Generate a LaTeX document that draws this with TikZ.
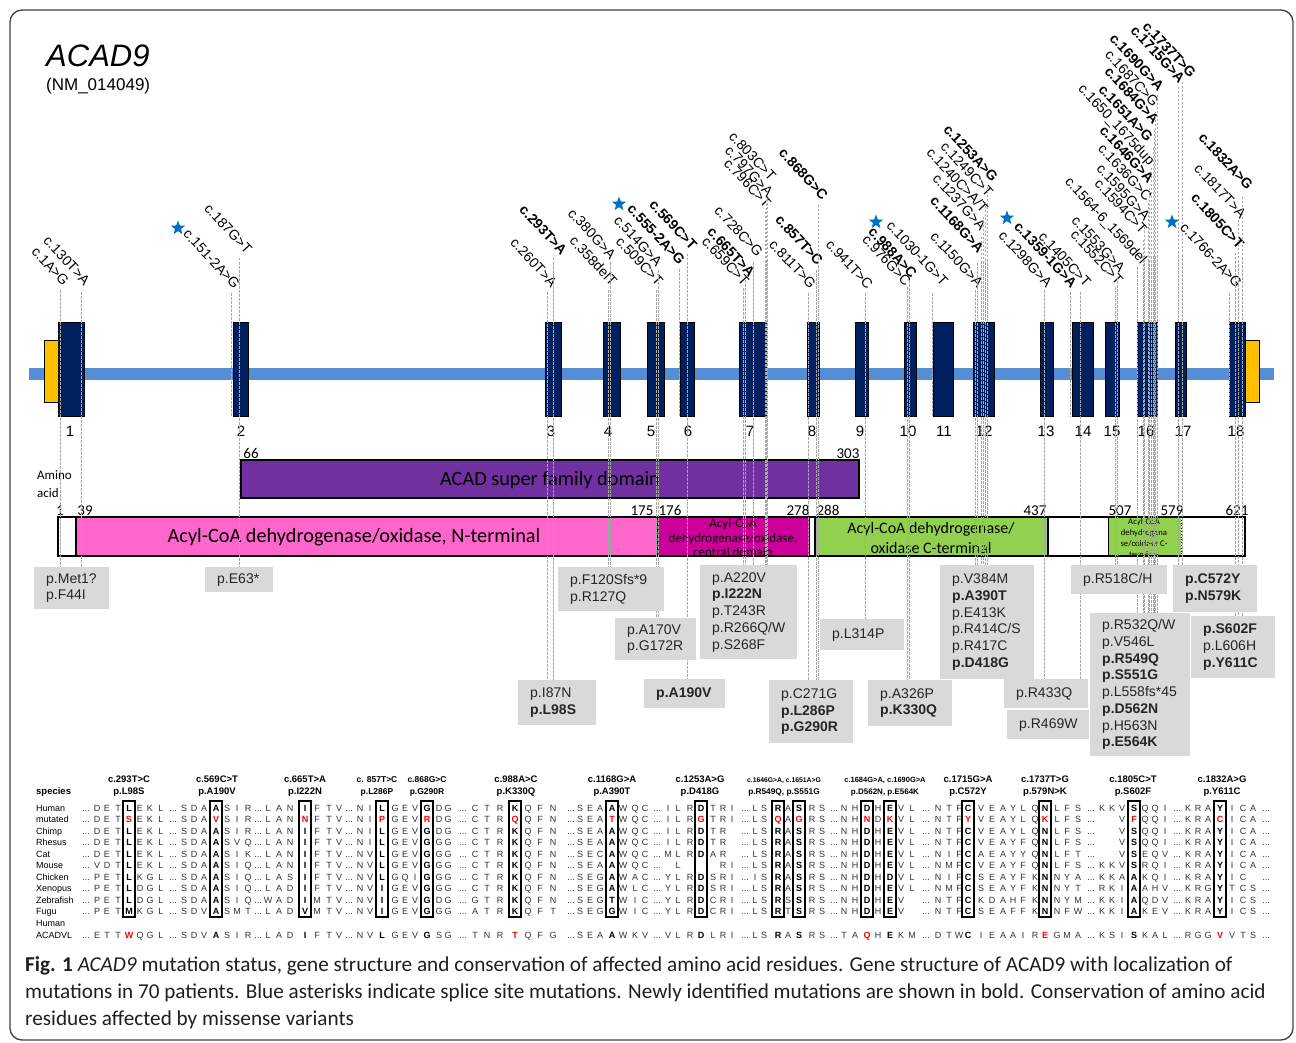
\documentclass[tikz,border=0pt]{standalone}
\usepackage{fontspec}
\setmainfont{Liberation Sans}
\newfontfamily\calfont{Carlito}
\usetikzlibrary{shapes.geometric}
\pgfdeclarelayer{fg}
\pgfsetlayers{main,fg}
\definecolor{exonc}{HTML}{002060}
\definecolor{utrc}{HTML}{FFC000}
\definecolor{genec}{HTML}{558ED5}
\definecolor{purp}{HTML}{7030A0}
\definecolor{pinkd}{HTML}{FF66CC}
\definecolor{magc}{HTML}{CC0099}
\definecolor{grnc}{HTML}{92D050}
\definecolor{boxg}{HTML}{D9D9D9}
\definecolor{starb}{HTML}{0070C0}
\definecolor{mlinec}{HTML}{A6A6A6}
\definecolor{redm}{HTML}{FF0000}
\newcommand\seqf{\fontsize{9}{9}\selectfont}
\newcommand\seqbf{\fontsize{9}{9}\selectfont\bfseries}
\tikzset{
 mutn/.style={rotate=-47, anchor=base east, inner sep=0, font=\fontsize{14}{14}\selectfont},
 mutb/.style={rotate=-47, anchor=base east, inner sep=0, font=\fontsize{14}{14}\selectfont\bfseries},
 mline/.style={draw=mlinec, line width=0.7pt, dash pattern=on 2.5pt off 1.5pt},
 pboxs/.style={fill=boxg, draw=none, anchor=north west, inner xsep=12pt, inner ysep=0pt, align=left, text=black!85, font=\fontsize{14}{16.7}\selectfont},
 exonbox/.style={fill=exonc, draw=black, line width=0.6pt},
 exlab/.style={anchor=base, inner sep=0, font=\fontsize{15}{15}\selectfont},
 numlab/.style={anchor=base, inner sep=0, font=\calfont\fontsize{15}{15}\selectfont},
 seqt/.style={anchor=base, inner sep=0, text=black!80, font=\seqf},
 alnbox/.style={draw=black, line width=1.3pt},
 hd/.style={anchor=base, inner sep=0, font=\fontsize{9.5}{9.5}\selectfont\bfseries},
 spec/.style={anchor=base west, inner sep=0, font=\fontsize{9}{9}\selectfont},
 bstar/.style={star, star points=5, star point ratio=2.4, fill=starb, draw=none, minimum size=15pt, inner sep=0pt},
 capt/.style={anchor=base west, inner sep=0, text=black!88, font=\calfont\fontsize{21.2}{21.2}\selectfont},
}
\newcount\rowc
\def\dotch{.}
\def\blankch{_}
\newcommand\seqcol[3]{%
  \def\scx{#1}\def\scb{#3}\rowc=0
  \ifnum#3=1 \draw[alnbox] (#1-6,801) rectangle (#1+6,917);\fi
  \seqloop#2\relax}
\def\seqloop#1{\ifx\relax#1\else\seqput#1\advance\rowc by 1 \expandafter\seqloop\fi}
\def\seqput#1{%
  \ifnum\rowc=10 \def\yy{938}\else\pgfmathsetmacro\yy{811+11.5*\the\rowc}\fi
  \def\ch{#1}%
  \ifnum\rowc=0 \let\humch\ch\fi
  \ifx\ch\dotch
     \node[seqt] (q\scx r\the\rowc) at (\scx,\yy) {...};%
  \else\ifx\ch\blankch\else
     \ifnum\scb=1
        \ifnum\rowc=1 \def\cc{redm}\else
          \ifnum\rowc=10 \ifx\ch\humch\def\cc{black}\else\def\cc{redm}\fi\else\def\cc{black}\fi
        \fi
        \node[seqt,font=\seqbf,text=\cc] (q\scx r\the\rowc) at (\scx,\yy) {#1};%
     \else
        \node[seqt] (q\scx r\the\rowc) at (\scx,\yy) {#1};%
     \fi
  \fi\fi}
% name, line x, line top, text, style, target, text end x, text end y
\newcommand\mlab[8]{%
  \coordinate (#1) at (#2,#3);
  \node[#5] (#1t) at (#7,#8) {#4};
  \draw[mline] (#1) -- (#1 |- #6.north);}
\newcommand\pbox[6]{%
  \pgfmathsetmacro\tw{#4-24}%
  \node[pboxs, text width=\tw pt, minimum height=#5pt] (#1) at (#2,#3) {#6};}
\newcommand\hdr[5]{%
  \node[hd,font=#4] (h#1a) at (#1,782.5) {#2};
  \node[hd,font=#5] (h#1b) at (#1,794.5) {#3};}
\newcommand\hfa{\fontsize{9.5}{9.5}\selectfont\bfseries}
\begin{document}
\begin{tikzpicture}[x=1pt,y=-1pt]
\useasboundingbox (0,0) rectangle (1296,1043);
\draw[rounded corners=12pt, line width=1.3pt, draw=black!75] (10,10) rectangle (1293,1040);
% title
\node[anchor=base west, inner sep=0, font=\fontsize{31}{31}\selectfont\itshape] (title) at (46,67) {ACAD9};
\node[anchor=base west, inner sep=0, font=\fontsize{17}{17}\selectfont] (nm) at (46,91) {(NM\_014049)};
% gene
\fill[genec] (29,368) rectangle (1274,380);
\draw[fill=utrc, draw=black, line width=0.6pt] (44,340) rectangle (58,402);
\draw[fill=utrc, draw=black, line width=0.6pt] (1245,340) rectangle (1259,402);
\foreach \a/\b/\n/\lx in {58/84/1/70, 233/248/2/241, 545/561/3/551, 603/620/4/608, 647/664/5/651, 680/694/6/688, 739/766/7/750, 807/819/8/812, 855/868/9/860, 904/916/10/908, 933/953/11/944, 973/994/12/984, 1040/1053/13/1046, 1072/1093/14/1083, 1105/1119/15/1112, 1137/1157/16/1146, 1175/1186/17/1183, 1229/1245/18/1236}
{\draw[exonbox] (\a,322) rectangle (\b,416); \node[exlab] (ex\n) at (\lx,436) {\n};}
% protein domains
\node[anchor=base west, inner sep=0, font=\calfont\fontsize{13}{13}\selectfont] (aa1) at (37,479) {Amino};
\node[anchor=base west, inner sep=0, font=\calfont\fontsize{13}{13}\selectfont] (aa2) at (37,497) {acid};
\draw[fill=purp, draw=black, line width=1.8pt] (241,460) rectangle (859,498);
\node[inner sep=0, font=\calfont\fontsize{20.3}{20.3}\selectfont] (acad) at (550,480) {ACAD super family domain};
\node[numlab] (n66) at (251,458) {66};
\node[numlab] (n303) at (848,458) {303};
\fill[white] (58,517) rectangle (76,556);
\fill[pinkd] (76,517) rectangle (657,556);
\fill[magc] (657,517) rectangle (809,556);
\fill[white] (809,517) rectangle (815,556);
\fill[grnc] (815,517) rectangle (1048,556);
\fill[white] (1048,517) rectangle (1108,556);
\fill[grnc] (1108,517) rectangle (1181,556);
\fill[white] (1181,517) rectangle (1245,556);
\draw[line width=1.8pt] (76,517) -- (76,556);
\draw[line width=0.7pt, dashed] (657,517) -- (657,556);
\draw[line width=0.8pt] (809,517) -- (809,556);
\draw[line width=1.5pt] (815,517) -- (815,556);
\draw[line width=1.8pt] (1048,517) -- (1048,556);
\draw[line width=0.8pt] (1108,517) -- (1108,556);
\draw[line width=0.8pt, dotted] (1181,517) -- (1181,556);
\draw[line width=2pt] (58,517) rectangle (1245,556);
\node[inner sep=0, font=\calfont\fontsize{20.3}{20.3}\selectfont] (nterm) at (354,537) {Acyl-CoA dehydrogenase/oxidase, N-terminal};
\begin{scope}
\clip (657,518) rectangle (809,555);
\node[inner sep=0, align=center, font=\calfont\fontsize{13}{14.5}\selectfont] (cent) at (733,538) {Acyl-CoA\\dehydrogenase/oxidase,\\central domain};
\end{scope}
\node[inner sep=0, align=center, font=\calfont\fontsize{16}{20}\selectfont] (cterm) at (931,538) {Acyl-CoA dehydrogenase/\\oxidase C-terminal};
\begin{scope}
\clip (1108,518) rectangle (1181,555);
\node[inner sep=0, align=center, font=\calfont\fontsize{8.7}{10.7}\selectfont] (cterm2) at (1144,538) {Acyl-CoA\\dehydrogena\\se/oxidase C-\\terminal};
\end{scope}
\foreach \x/\t in {60/1, 85/39, 642/175, 670/176, 798/278, 828/288, 1035/437, 1120/507, 1172/579, 1237/621}
{\node[numlab] (d\t) at (\x,515) {\t};}
% protein change boxes
\begin{pgfonlayer}{fg}
\pbox{bMet}{34}{567}{75}{42}{p.Met1?\\p.F44I}
\pbox{bE63}{205}{567}{68}{25}{p.E63*}
\pbox{bF120}{558}{567}{106}{44}{p.F120Sfs*9\\p.R127Q}
\pbox{bA170}{615}{618}{81}{42}{p.A170V\\p.G172R}
\pbox{bA190}{644}{679}{81}{29}{\textbf{p.A190V}}
\pbox{bI87}{518}{680}{78}{45}{p.I87N\\\textbf{p.L98S}}
\pbox{bA220}{700}{565}{97}{94}{p.A220V\\\textbf{p.I222N}\\p.T243R\\p.R266Q/W\\p.S268F}
\pbox{bL314}{820}{619}{84}{31}{p.L314P}
\pbox{bC271}{769}{680}{84}{63}{p.C271G\\\textbf{p.L286P}\\\textbf{p.G290R}}
\pbox{bA326}{868}{680}{84}{46}{p.A326P\\\textbf{p.K330Q}}
\pbox{bV384}{940}{565}{94}{114}{p.V384M\\\textbf{p.A390T}\\p.E413K\\p.R414C/S\\p.R417C\\\textbf{p.D418G}}
\pbox{bR433}{1004}{679}{84}{29}{p.R433Q}
\pbox{bR469}{1007}{710}{82}{29}{p.R469W}
\pbox{bR518}{1071}{565}{96}{29}{p.R518C/H}
\pbox{bC572}{1173}{565}{84}{47}{\textbf{p.C572Y}\\\textbf{p.N579K}}
\pbox{bR532}{1090}{613}{100}{143}{p.R532Q/W\\p.V546L\\\textbf{p.R549Q}\\\textbf{p.S551G}\\p.L558fs*45\\\textbf{p.D562N}\\p.H563N\\\textbf{p.E564K}}
\pbox{bS602}{1191}{616}{84}{62}{\textbf{p.S602F}\\p.L606H\\\textbf{p.Y611C}}
\end{pgfonlayer}
\node[inner sep=0, minimum size=0pt] (spl) at (0,417) {};
% mutation labels and lines
\mlab{a1}{60}{290}{c.1A>G}{mutn}{bMet}{63}{287}
\mlab{a2}{81}{292}{c.130T>A}{mutn}{bMet}{84}{286}
\mlab{a3}{231}{293}{c.151-2A>G}{mutn}{spl}{234}{290}
\mlab{a4}{239}{258}{c.187G>T}{mutn}{bE63}{246}{255}
\mlab{a5}{547}{292}{c.260T>A}{mutn}{bI87}{551}{288}
\mlab{a6}{553}{258}{c.293T>A}{mutb}{bI87}{561}{256}
\mlab{a7}{608}{290}{c.358delT}{mutn}{bF120}{611}{287}
\mlab{a8}{610}{262}{c.380G>A}{mutn}{bF120}{610}{260}
\mlab{a9}{656}{290}{c.509C>T}{mutn}{bA170}{657}{287}
\mlab{a10}{658}{270}{c.514G>A}{mutn}{bA170}{656}{267}
\mlab{a11}{679}{269}{c.555-2A>G}{mutb}{spl}{679}{266}
\mlab{a12}{687}{254}{c.569C>T}{mutb}{bA190}{691}{251}
\mlab{a13}{743}{288}{c.659C>T}{mutn}{bA220}{743}{287}
\mlab{a14}{745}{280}{c.665T>A}{mutb}{bA220}{749}{278}
\mlab{a15}{753}{262}{c.728C>G}{mutn}{bA220}{757}{258}
\mlab{a16}{765}{212}{c.796C>T}{mutn}{bA220}{765}{209}
\mlab{a17}{766}{200}{c.797G>A}{mutn}{bA220}{767}{197}
\mlab{a18}{767}{187}{c.803C>T}{mutn}{bA220}{770}{182}
\mlab{a19}{808}{293}{c.811T>G}{mutn}{bC271}{810}{290}
\mlab{a20}{816}{270}{c.857T>C}{mutb}{bC271}{817}{266}
\mlab{a21}{818}{205}{c.868G>C}{mutb}{bC271}{822}{201}
\mlab{a22}{865}{293}{c.941T>C}{mutn}{bL314}{867}{290}
\mlab{a23}{907}{287}{c.976G>C}{mutn}{bA326}{905}{287}
\mlab{a24}{909}{280}{c.988A>C}{mutb}{bA326}{911}{279}
\mlab{a25}{932}{293}{c.1030-1G>T}{mutn}{spl}{942}{287}
\mlab{a26}{975}{290}{c.1150G>A}{mutn}{bV384}{977}{288}
\mlab{a27}{977}{263}{c.1168G>A}{mutb}{bV384}{978}{254}
\mlab{a28}{981}{237}{c.1237G>A}{mutn}{bV384}{980}{231}
\mlab{a29}{983}{217}{c.1240C>A/T}{mutn}{bV384}{982}{214}
\mlab{a30}{985}{202}{c.1249C>T}{mutn}{bV384}{987}{198}
\mlab{a31}{987}{187}{c.1253A>G}{mutb}{bV384}{992}{183}
\mlab{a32}{1044}{290}{c.1298G>A}{mutn}{bR433}{1046}{288}
\mlab{a34}{1080}{292}{c.1405C>T}{mutn}{bR433}{1085}{288}
\mlab{a33}{1070}{292}{c.1359-1G>A}{mutb}{spl}{1071}{289}
\mlab{a35}{1115}{287}{c.1552C>T}{mutn}{bR518}{1117}{286}
\mlab{a36}{1117}{277}{c.1553G>A}{mutn}{bR518}{1119}{273}
\mlab{a37}{1137}{267}{c.1564-6\_1569del}{mutn}{bR532}{1141}{265}
\mlab{a38}{1143}{240}{c.1594C>T}{mutn}{bR532}{1141}{235}
\mlab{a39}{1144}{227}{c.1595G>A}{mutn}{bR532}{1144}{221}
\mlab{a40}{1148}{203}{c.1636G>C}{mutn}{bR532}{1146}{202}
\mlab{a41}{1149}{188}{c.1646G>A}{mutb}{bR532}{1148}{184}
\mlab{a42}{1151}{168}{c.1650\_1675dup}{mutn}{bR532}{1149}{166}
\mlab{a43}{1153}{148}{c.1651A>G}{mutb}{bR532}{1147}{143}
\mlab{a44}{1154}{130}{c.1684G>A}{mutb}{bR532}{1153}{125}
\mlab{a45}{1155}{112}{c.1687C>G}{mutn}{bR532}{1153}{108}
\mlab{a46}{1157}{95}{c.1690G>A}{mutb}{bR532}{1158}{92}
\mlab{a47}{1178}{87}{c.1715G>A}{mutb}{bC572}{1179}{84}
\mlab{a48}{1182}{82}{c.1737T>G}{mutb}{bC572}{1190}{79}
\mlab{a49}{1229}{293}{c.1766-2A>G}{mutn}{spl}{1236}{289}
\mlab{a50}{1235}{253}{c.1805C>T}{mutb}{bS602}{1238}{250}
\mlab{a51}{1238}{220}{c.1817T>A}{mutn}{bS602}{1240}{219}
\mlab{a52}{1242}{197}{c.1832A>G}{mutb}{bS602}{1247}{191}
% splice stars
\node[bstar] (s1) at (178,228) {};
\node[bstar] (s2) at (619,204) {};
\node[bstar] (s3) at (876,222) {};
\node[bstar] (s4) at (1007,218) {};
\node[bstar] (s5) at (1172,222) {};
% alignment headers
\node[hd, anchor=base west] (spc) at (36,794.5) {species};
\hdr{129}{c.293T>C}{p.L98S}{\hfa}{\hfa}
\hdr{217}{c.569C>T}{p.A190V}{\hfa}{\hfa}
\hdr{305}{c.665T>A}{p.I222N}{\hfa}{\hfa}
\hdr{377}{c. 857T>C}{p.L286P}{\fontsize{8.5}{8.5}\selectfont\bfseries}{\fontsize{8.5}{8.5}\selectfont\bfseries}
\hdr{427}{c.868G>C}{p.G290R}{\fontsize{8.5}{8.5}\selectfont\bfseries}{\fontsize{8.5}{8.5}\selectfont\bfseries}
\hdr{516}{c.988A>C}{p.K330Q}{\hfa}{\hfa}
\hdr{612}{c.1168G>A}{p.A390T}{\hfa}{\hfa}
\hdr{700}{c.1253A>G}{p.D418G}{\hfa}{\hfa}
\hdr{784}{c.1646G>A, c.1651A>G}{p.R549Q, p.S551G}{\fontsize{6.8}{6.8}\selectfont\bfseries}{\fontsize{8.3}{8.3}\selectfont\bfseries}
\hdr{885}{c.1684G>A, c.1690G>A}{p.D562N, p.E564K}{\fontsize{7.5}{7.5}\selectfont\bfseries}{\fontsize{8}{8}\selectfont\bfseries}
\hdr{968}{c.1715G>A}{p.C572Y}{\hfa}{\hfa}
\hdr{1045}{c.1737T>G}{p.579N>K}{\hfa}{\hfa}
\hdr{1133}{c.1805C>T}{p.S602F}{\hfa}{\hfa}
\hdr{1222}{c.1832A>G}{p.Y611C}{\hfa}{\hfa}
% species names
\foreach \nm/\yb/\i in {Human/811/1, mutated/822.5/2, Chimp/834/3, Rhesus/845.5/4, Cat/857/5, Mouse/868.5/6, Chicken/880/7, Xenopus/891.5/8, Zebrafish/903/9, Fugu/914.5/10, Human/926/11, ACADVL/938/12}
{\node[spec] (sp\i) at (36,\yb) {\nm};}
% sequence columns (rows: Human, mutated, Chimp, Rhesus, Cat, Mouse, Chicken, Xenopus, Zebrafish, Fugu, ACADVL)
\seqcol{86}{...........}{0}
\seqcol{97}{DDDDDVPPPPE}{0}
\seqcol{107}{EEEEEDEEEET}{0}
\seqcol{118}{TTTTTTTTTTT}{0}
\seqcol{129}{LSLLLLLLLMW}{1}
\seqcol{140}{EEEEEEKDDKQ}{0}
\seqcol{150}{KKKKKKGGGGG}{0}
\seqcol{161}{LLLLLLLLLLL}{0}
\seqcol{173}{...........}{0}
\seqcol{184}{SSSSSSSSSSS}{0}
\seqcol{194}{DDDDDDDDDDD}{0}
\seqcol{204}{AAAAAAAAAVV}{0}
\seqcol{216}{AVAAAAAAAAA}{1}
\seqcol{227}{SSSSSSSSSSS}{0}
\seqcol{237}{IIIVIIIIIMI}{0}
\seqcol{248}{RRRQKQQQQTR}{0}
\seqcol{258}{...........}{0}
\seqcol{268}{LLLLLLLLWLL}{0}
\seqcol{279}{AAAAAAAAAAA}{0}
\seqcol{290}{NNNNNNSDDDD}{0}
\seqcol{305}{INIIIIIIIVI}{1}
\seqcol{317}{FFFFFFFFMMF}{0}
\seqcol{329}{TTTTTTTTTTT}{0}
\seqcol{339}{VVVVVVVVVVV}{0}
\seqcol{349}{...........}{0}
\seqcol{360}{NNNNNNNNNNN}{0}
\seqcol{370}{IIIIVVVVVVV}{0}
\seqcol{382}{LPLLLLLIIIL}{1}
\seqcol{395}{GGGGGGGGGGG}{0}
\seqcol{405}{EEEEEEQEEEE}{0}
\seqcol{415}{VVVVVVIVVVV}{0}
\seqcol{427}{GRGGGGGGGGG}{1}
\seqcol{439}{DDDGGGGGDGS}{0}
\seqcol{448}{GGGGGGGGGGG}{0}
\seqcol{463}{...........}{0}
\seqcol{475}{CCCCCCCCGAT}{0}
\seqcol{487}{TTTTTTTTTTN}{0}
\seqcol{500}{RRRRRRRRRRR}{0}
\seqcol{515}{KQKKKKKKKKT}{1}
\seqcol{528}{QQQQQQQQQQQ}{0}
\seqcol{540}{FFFFFFFFFFF}{0}
\seqcol{553}{NNNNNNNNNTG}{0}
\seqcol{571}{...........}{0}
\seqcol{580}{SSSSSSSSSSS}{0}
\seqcol{590}{EEEEEEEEEEE}{0}
\seqcol{600}{AAAACAGGGGA}{0}
\seqcol{612}{ATAAAAAATGA}{1}
\seqcol{623}{WWWWWWWWWWW}{0}
\seqcol{635}{QQQQQQALIIK}{0}
\seqcol{645}{CCCCCCCCCCV}{0}
\seqcol{657}{...........}{0}
\seqcol{668}{IIIIM_YYYYV}{0}
\seqcol{678}{LLLLLLLLLLL}{0}
\seqcol{690}{RRRRR_RRRRR}{0}
\seqcol{701}{DGDDD_DDDDD}{1}
\seqcol{713}{TTTTA_SSCCL}{0}
\seqcol{723}{RRRRRRRRRRR}{0}
\seqcol{732}{II___IIIIII}{0}
\seqcol{745}{...........}{0}
\seqcol{755}{LLLLLLILLLL}{0}
\seqcol{764}{SSSSSSSSSSS}{0}
\seqcol{778}{RQRRRRRRRRR}{1}
\seqcol{788}{AAAAAAAASTA}{0}
\seqcol{799}{SGSSSSSSSSS}{1}
\seqcol{812}{RRRRRRRRRRR}{0}
\seqcol{822}{SSSSSSSSSSS}{0}
\seqcol{834}{...........}{0}
\seqcol{844}{NNNNNNNNNNT}{0}
\seqcol{855}{HHHHHHHHHHA}{0}
\seqcol{867}{DNDDDDDDDDQ}{1}
\seqcol{878}{HDHHHHHHHHH}{0}
\seqcol{890}{EKEEEEDEEEE}{1}
\seqcol{901}{VVVVVVVVVVK}{0}
\seqcol{912}{LLLLLLLL__M}{0}
\seqcol{926}{...........}{0}
\seqcol{938}{NNNNNNNNNND}{0}
\seqcol{949}{TTTTIMIMTTT}{0}
\seqcol{959}{FFFFFFFFFFW}{0}
\seqcol{968}{CYCCCCCCCCC}{1}
\seqcol{981}{VVVVAVSSKSI}{0}
\seqcol{992}{EEEEEEEEDEE}{0}
\seqcol{1003}{AAAAAAAAAAA}{0}
\seqcol{1013}{YYYYYYYYHFA}{0}
\seqcol{1023}{LLLFYFFFFFI}{0}
\seqcol{1035}{QQQQQQKKKKR}{0}
\seqcol{1045}{NKNNNNNNNNE}{1}
\seqcol{1057}{LLLLLLNNNNG}{0}
\seqcol{1067}{FFFFFFYYYFM}{0}
\seqcol{1078}{SSSSTSATMWA}{0}
\seqcol{1091}{...........}{0}
\seqcol{1102}{K____KKRKKK}{0}
\seqcol{1112}{K____KKKKKS}{0}
\seqcol{1122}{VVVVVVAIIII}{0}
\seqcol{1134}{SFSSSSAAAAS}{1}
\seqcol{1145}{QQQQERKAQKK}{0}
\seqcol{1155}{QQQQQQQHDEA}{0}
\seqcol{1165}{IIIIVIIVVVL}{0}
\seqcol{1177}{...........}{0}
\seqcol{1188}{KKKKKKKKKKR}{0}
\seqcol{1198}{RRRRRRRRRRG}{0}
\seqcol{1208}{AAAAAAAGAAG}{0}
\seqcol{1220}{YCYYYYYYYYV}{1}
\seqcol{1232}{IIIIIIITIIV}{0}
\seqcol{1243}{CCCCCCCCCCT}{0}
\seqcol{1253}{AAAAAA_SSSS}{0}
\seqcol{1266}{...........}{0}
% caption
\node[capt] (cap1) at (25,971) {\textbf{Fig. 1} \textit{ACAD9} mutation status, gene structure and conservation of affected amino acid residues. Gene structure of ACAD9 with localization of};
\node[capt] (cap2) at (25,998) {mutations in 70 patients. Blue asterisks indicate splice site mutations. Newly identified mutations are shown in bold. Conservation of amino acid};
\node[capt] (cap3) at (25,1025) {residues affected by missense variants};
\end{tikzpicture}
\end{document}
